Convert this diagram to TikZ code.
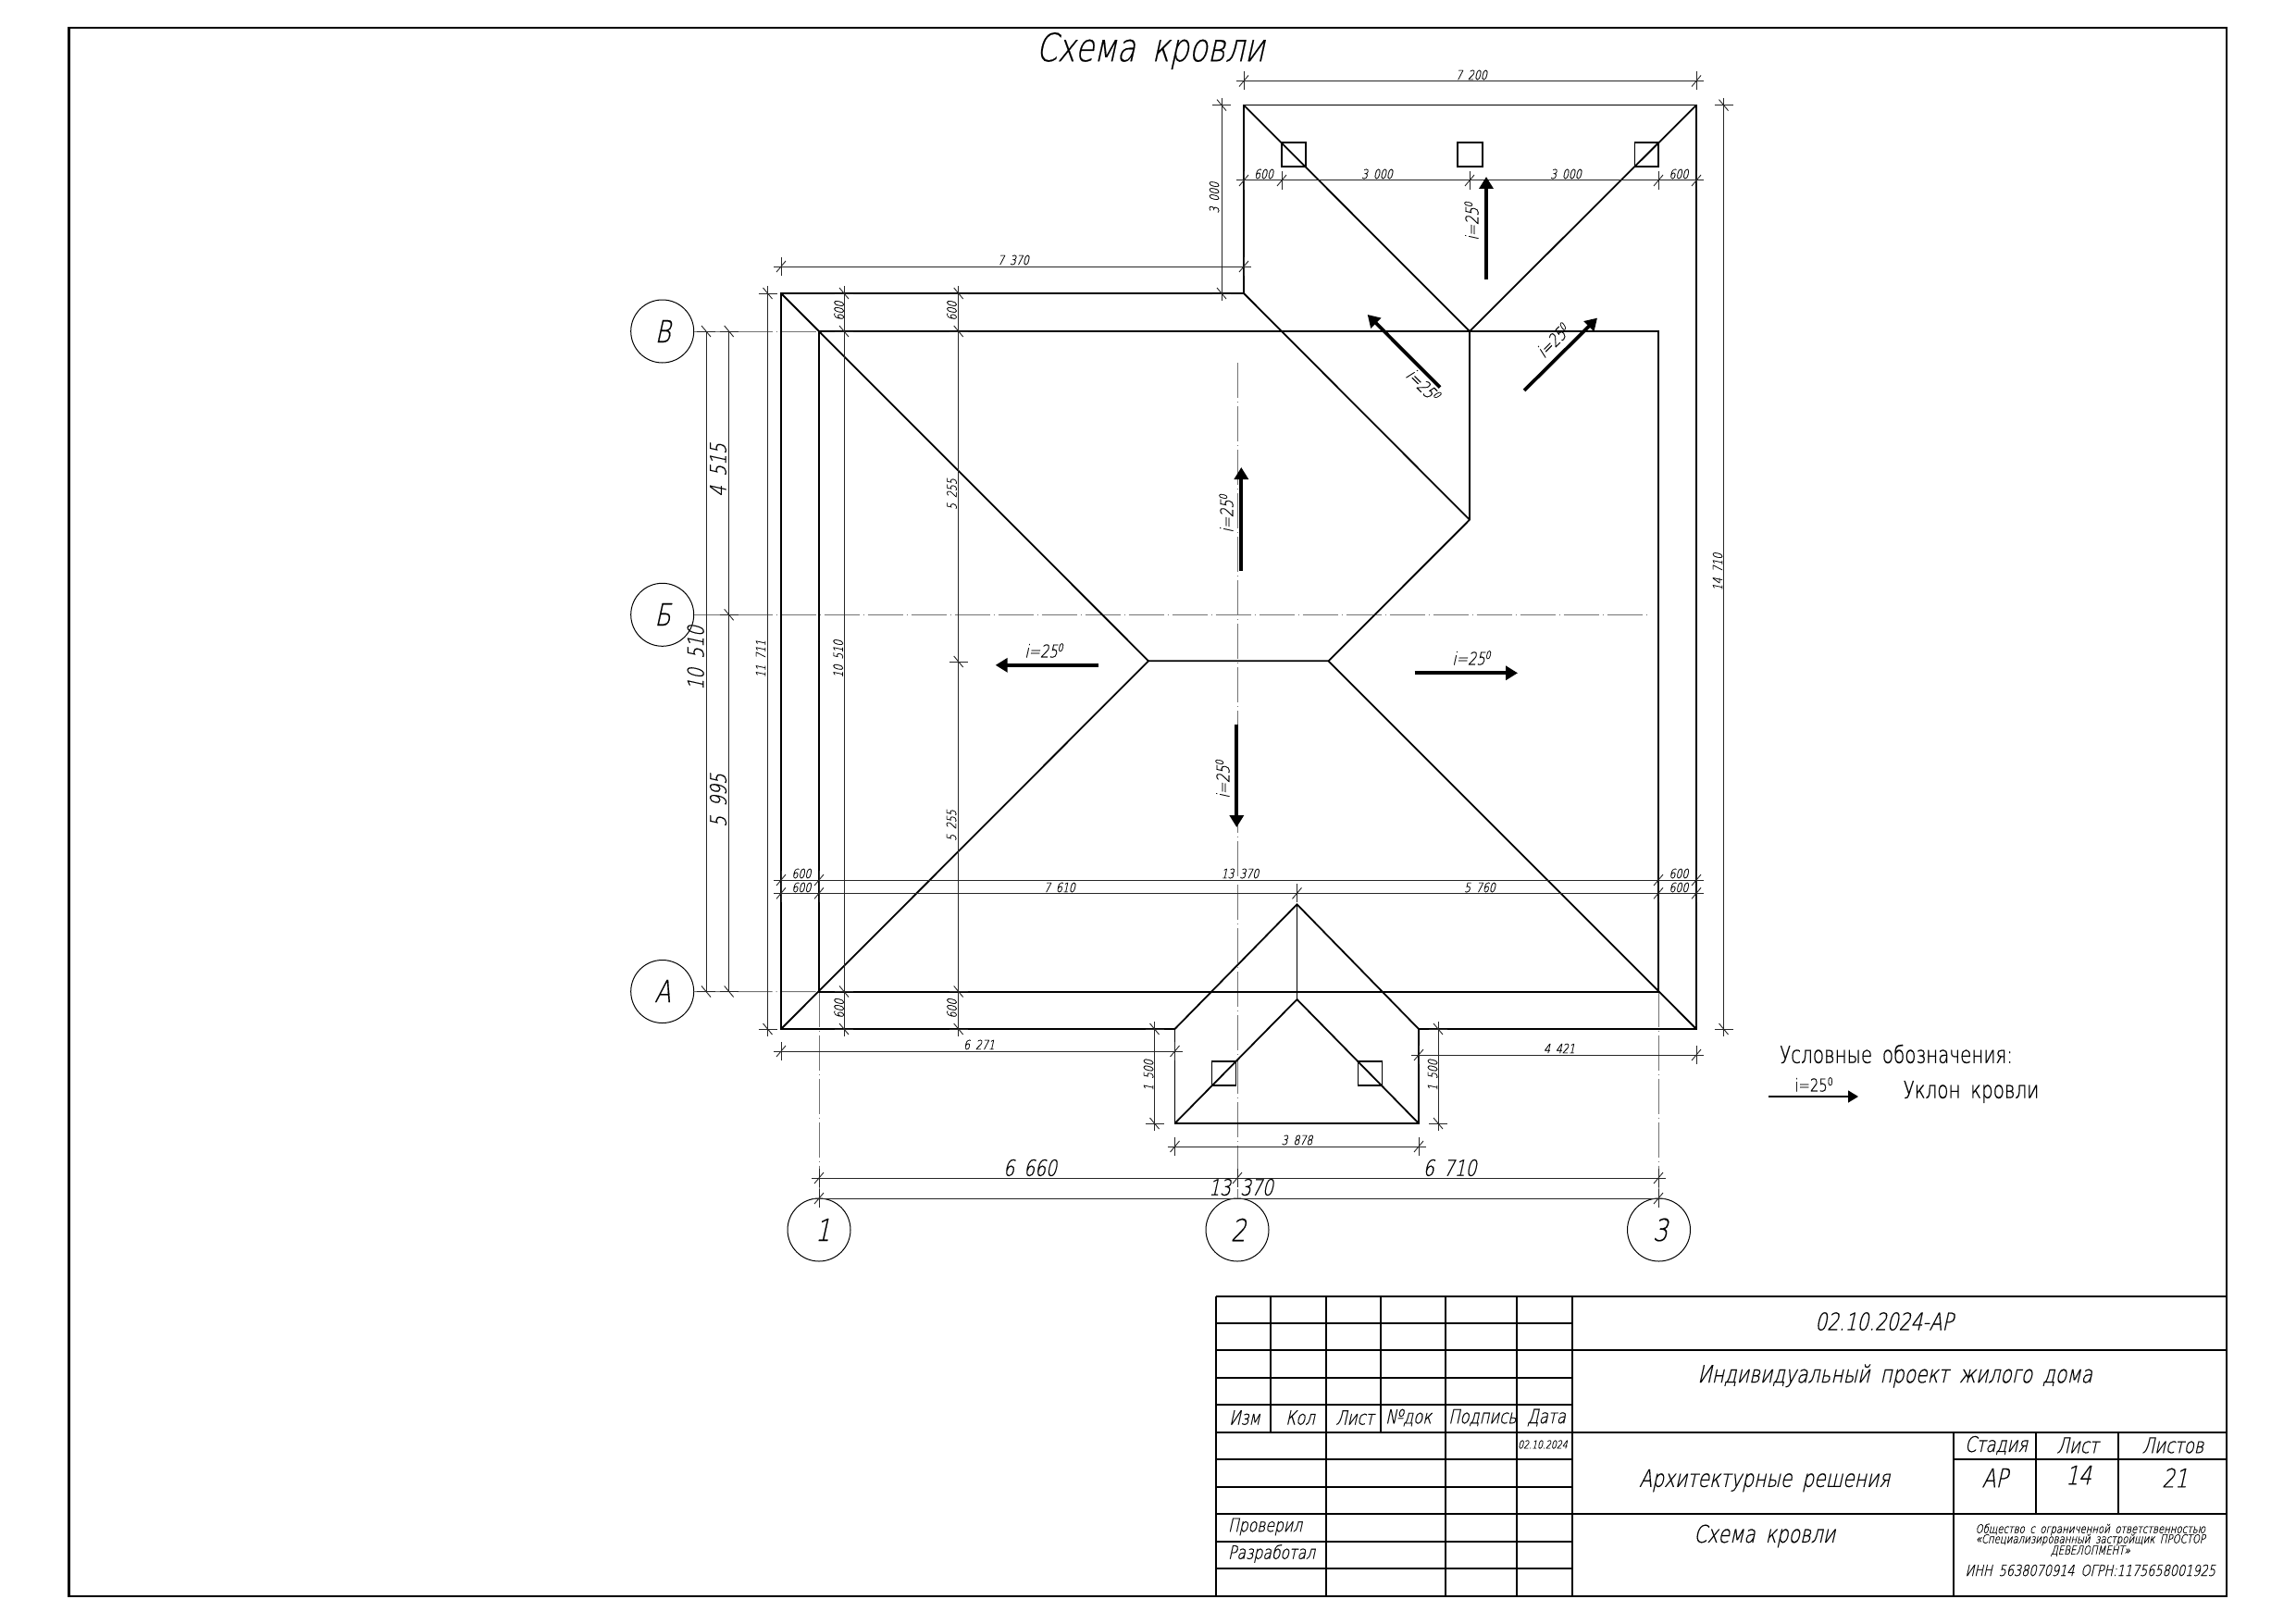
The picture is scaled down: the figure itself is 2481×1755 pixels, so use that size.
\documentclass[tikz,border=0pt]{standalone}
\usepackage{fontspec}
\usetikzlibrary{arrows.meta}
\newfontfamily\gost[FakeSlant=0.22,FakeStretch=0.78,FakeBold=0.4,WordSpace=1.7]{DejaVu Sans ExtraLight}
\newfontfamily\gostup[FakeStretch=0.78,FakeBold=0.6,WordSpace=1.7]{DejaVu Sans ExtraLight}
\newcounter{lb}
\newcommand\fs[1]{\gost\fontsize{#1}{#1}\selectfont}
\newcommand\tx[4][]{\stepcounter{lb}\node[txt,#1] (lb\arabic{lb}) at (#2,#3) {#4};}
\newcommand\hdim[4]{\draw[dimline] (#2-8,#1) -- (#3+8,#1);
  \foreach \tk in {#4} {\draw[dimtick] (\tk,#1-10) -- (\tk,#1+10); \draw[dimtick] (\tk-5,#1+6) -- (\tk+5,#1-6);}}
\newcommand\vdim[5][8]{\draw[dimline] (#2,#3-#1) -- (#2,#4+#1);
  \foreach \tk in {#5} {\draw[dimtick] (#2-10,\tk) -- (#2+10,\tk); \draw[dimtick] (#2-5,\tk-6) -- (#2+5,\tk+6);}}
\newcommand\slope{i=25\raisebox{.62ex}{\scalebox{.62}{0}}}
\tikzset{
  txt/.style={inner sep=0pt,outer sep=0pt,text=black,anchor=center},
  ds/.style={font=\fs{14}},
  db/.style={font=\fs{24}},
  sl/.style={font=\fs{19}},
  tb/.style={font=\fs{21}},
  tc/.style={font=\fs{23}},
  r90/.style={rotate=90},
  frame/.style={line width=2.4pt,black},
  roof/.style={line width=1.8pt,black,line join=miter},
  sky/.style={line width=1.7pt,black},
  grid/.style={line width=1.9pt,black},
  dimline/.style={line width=1pt,black!85},
  dimtick/.style={line width=.9pt,black!85},
  axisl/.style={line width=1pt,black!55,dash pattern=on 38pt off 4pt on 1pt off 4pt},
  bub/.style={circle,draw,line width=1pt,minimum size=68pt,inner sep=0pt,outer sep=0pt},
  slopearrow/.style={line width=3.7pt,black,-{Triangle[length=13pt,width=15pt]}},
}
\begin{document}
\begin{tikzpicture}[x=1pt,y=-1pt]
\useasboundingbox (0,0) rectangle (2481,1755);
\fill[white] (0,0) rectangle (2481,1755);
\draw[frame] (74.5,30) rectangle (2406,1725);
\tx[font=\fs{42}]{1243}{55}{Схема кровли}
% grid bubbles
\node[bub] (gV) at (715.7,358) {};
\node[bub] (gB) at (715.7,664.3) {};
\node[bub] (gA) at (715.7,1071.5) {};
\node[bub] (g1) at (885,1329) {};
\node[bub] (g2) at (1337,1329) {};
\node[bub] (g3) at (1792.5,1329) {};
\tx[font=\fs{33}]{716}{358}{В}
\tx[font=\fs{33}]{716}{664}{Б}
\tx[font=\fs{33}]{716}{1071}{А}
\tx[font=\fs{33}]{889}{1329}{1}
\tx[font=\fs{33}]{1338}{1329}{2}
\tx[font=\fs{33}]{1794}{1329}{3}
% key points
\coordinate (oTL) at (844,317);
\coordinate (oBL) at (844,1112);
\coordinate (oBR) at (1833,1112);
\coordinate (oTR) at (1833,113.6);
\coordinate (uTL) at (1344,113.6);
\coordinate (uBL) at (1344,317);
\coordinate (iTL) at (885,358);
\coordinate (iTR) at (1792,358);
\coordinate (iBR) at (1792,1071.7);
\coordinate (iBL) at (885,1071.7);
\coordinate (vTop) at (1588,358);
\coordinate (vBot) at (1588,561.7);
\coordinate (rL) at (1241,714.3);
\coordinate (rR) at (1435.5,714.3);
\coordinate (bL) at (1269.5,1112);
\coordinate (bR) at (1533,1112);
\coordinate (bBL) at (1269.5,1214);
\coordinate (bBR) at (1533,1214);
\coordinate (bTop) at (1401.5,977.3);
\coordinate (bLow) at (1401.5,1080);
% axes
\draw[axisl] (gV) ++(34,0) -- (iTL);
\draw[axisl] (gA) ++(34,0) -- (iBL);
\draw[axisl] (gB) ++(34,0) -- (1783,664.3);
\draw[axisl] (885,1071.7) -- (885,1295);
\draw[axisl] (1337,392) -- (g2.north);
\draw[axisl] (1792,1071.7) -- (1792,1295);
% roof
\draw[roof] (oTL) -- (uBL) -- (uTL) -- (oTR) -- (oBR) -- (bR) -- (bBR) -- (bBL) -- (bL) -- (oBL) -- cycle;
\draw[roof] (iTL) rectangle (iBR);
\draw[roof] (uTL) -- (vTop) -- (oTR);
\draw[roof] (vTop) -- (vBot) -- (rR) -- (rL);
\draw[roof] (uBL) -- (vBot);
\draw[roof] (oTL) -- (rL) -- (oBL);
\draw[roof] (rR) -- (oBR);
\draw[roof] (bL) -- (bTop) -- (bR);
\draw[roof] (bBL) -- (bLow) -- (bBR);
\draw[roof] (bTop) -- (bLow);
% skylights
\draw[sky] (1385,154) rectangle (1411,180);
\draw[sky] (1575,154) rectangle (1602,180);
\draw[sky] (1766.5,154) rectangle (1792,180);
\draw[sky] (1309.5,1147) rectangle (1335.5,1173);
\draw[sky] (1467.6,1147) rectangle (1493.5,1173);
% dimensions
\hdim{87.5}{1344}{1833}{1344,1833}
\hdim{195}{1344}{1833}{1344,1385,1588,1792,1833}
\hdim{288}{844}{1344}{844,1344}
\hdim{951}{844}{1833}{844,885,1792,1833}
\hdim{965.3}{844}{1833}{844,885,1401.5,1792,1833}
\hdim{1136}{844}{1269.5}{844,1269.5}
\hdim{1140}{1533}{1833}{1533,1833}
\hdim{1239}{1269.5}{1533}{1269.5,1533}
\hdim{1273}{885}{1792}{885,1337,1792}
\hdim{1295}{885}{1792}{885,1792}
\vdim{1320}{113.6}{317}{113.6,317}
\vdim{1862.5}{113.6}{1112}{113.6,1112}
\vdim{1247.5}{1112}{1214}{1112,1214}
\vdim{1554}{1112}{1214}{1112,1214}
\vdim[0]{763}{358}{1071.5}{358,1071.5}
\vdim[0]{787.7}{358}{1071.5}{358,664.3,1071.5}
\vdim{829.5}{317}{1112}{317,1112}
\vdim{912}{317}{1112}{317,358,1071.5,1112}
\vdim{1035.7}{317}{1112}{317,358,715,1071.5,1112}
% small dimension labels
\tx[ds]{1590}{81}{7 200}
\tx[ds]{1365.6}{188}{600}
\tx[ds]{1488}{188}{3 000}
\tx[ds]{1692}{188}{3 000}
\tx[ds]{1814}{188}{600}
\tx[ds]{1095}{281}{7 370}
\tx[ds,r90]{1312}{213.6}{3 000}
\tx[ds,r90]{1856}{618}{14 710}
\tx[ds,r90]{906.6}{336}{600}
\tx[ds,r90]{1028.5}{336}{600}
\tx[ds,r90]{906.6}{1090}{600}
\tx[ds,r90]{1028.5}{1090}{600}
\tx[ds,r90]{822}{712}{11 711}
\tx[ds,r90]{905.7}{712}{10 510}
\tx[ds,r90]{1028.5}{534}{5 255}
\tx[ds,r90]{1028}{892}{5 255}
\tx[ds]{866}{944}{600}
\tx[ds]{1340}{944}{13 370}
\tx[ds]{1814}{944}{600}
\tx[ds]{866}{959}{600}
\tx[ds]{1145}{959}{7 610}
\tx[ds]{1599}{959}{5 760}
\tx[ds]{1814}{959}{600}
\tx[ds]{1058}{1129}{6 271}
\tx[ds]{1685}{1133}{4 421}
\tx[ds,r90]{1241}{1162}{1 500}
\tx[ds,r90]{1548}{1162}{1 500}
\tx[ds]{1401.5}{1232}{3 878}
% large dimension labels
\tx[db,r90]{776}{508}{4 515}
\tx[db,r90]{776}{865}{5 995}
\tx[db,r90]{751.7}{711}{10 510}
\tx[db]{1113}{1262}{6 660}
\tx[db]{1566.6}{1262}{6 710}
\tx[db]{1341}{1283}{13 370}
% slope arrows
\draw[slopearrow] (1606,302) -- (1606,191);
\draw[slopearrow] (1556,418.6) -- (1477.7,340);
\draw[slopearrow] (1647,422) -- (1726,343.6);
\draw[slopearrow] (1341.3,616.7) -- (1341.3,505);
\draw[slopearrow] (1336.3,782.7) -- (1336.3,894);
\draw[slopearrow] (1187,718.8) -- (1075.7,718.8);
\draw[slopearrow] (1528.7,727.3) -- (1640,727.3);
\tx[sl,r90]{1590}{239}{\slope}
\tx[sl,rotate=-45]{1538}{416}{\slope}
\tx[sl,rotate=45]{1678}{368}{\slope}
\tx[sl,r90]{1325}{555}{\slope}
\tx[sl,r90]{1321}{842}{\slope}
\tx[sl]{1128}{703}{\slope}
\tx[sl]{1590}{711}{\slope}
% legend
\tx[font=\gostup\fontsize{25.5}{25.5}\selectfont]{2049}{1139}{Условные обозначения:}
\draw[line width=1.4pt,-{Triangle[length=11pt,width=13pt]}] (1911,1185) -- (2008,1185);
\tx[font=\gostup\fontsize{19}{19}\selectfont]{1960}{1172}{\slope}
\tx[font=\gostup\fontsize{25.5}{25.5}\selectfont]{2130}{1180}{Уклон кровли}
% title block grid
\foreach \yy in {1400.7,1430,1459.3,1489,1518.3,1547.7,1577.3,1606.7,1636.3,1666,1695.3,1725}
  \draw[grid] (1314,\yy) -- (1698.7,\yy);
\foreach \xx in {1314,1432.7,1561.7,1639.3,1698.7}
  \draw[grid] (\xx,1400.7) -- (\xx,1725);
\foreach \xx in {1373.3,1491.7}
  \draw[grid] (\xx,1400.7) -- (\xx,1547.7);
\foreach \yy in {1400.7,1459.3,1547.7,1636.3,1725}
  \draw[grid] (1698.7,\yy) -- (2406,\yy);
\draw[grid] (2111,1547.7) -- (2111,1725);
\draw[grid] (2200,1547.7) -- (2200,1636.3);
\draw[grid] (2288.6,1547.7) -- (2288.6,1636.3);
\draw[grid] (2111,1577.3) -- (2406,1577.3);
% title block text
\tx[tb]{1345}{1532}{Изм}
\tx[tb]{1405}{1532}{Кол}
\tx[tb]{1464}{1532}{Лист}
\tx[tb]{1522}{1532}{№док}
\tx[tb]{1602}{1532}{Подпись}
\tx[tb]{1671}{1532}{Дата}
\tx[font=\fs{12}]{1667}{1561}{02.10.2024}
\tx[font=\fs{20},anchor=west]{1327}{1650}{Проверил}
\tx[font=\fs{20},anchor=west]{1327}{1679}{Разработал}
\tx[font=\fs{26}]{2036}{1428}{02.10.2024-АР}
\tx[font=\fs{26}]{2047.6}{1487}{Индивидуальный проект жилого дома}
\tx[font=\fs{26}]{1906.7}{1600}{Архитектурные решения}
\tx[font=\fs{26}]{1906.7}{1660}{Схема кровли}
\tx[tc]{2157}{1562}{Стадия}
\tx[tc]{2245}{1562}{Лист}
\tx[tc]{2348}{1562}{Листов}
\tx[font=\fs{28}]{2155.7}{1597}{АР}
\tx[font=\fs{28}]{2246}{1594}{14}
\tx[font=\fs{28}]{2350}{1597}{21}
\tx[font=\fs{13}]{2258.8}{1653}{Общество с ограниченной ответственностью}
\tx[font=\fs{13}]{2258.8}{1664}{«Специализированный застройщик ПРОСТОР}
\tx[font=\fs{13}]{2258.8}{1676}{ДЕВЕЛОПМЕНТ»}
\tx[font=\fs{16.5}]{2258.8}{1697}{ИНН 5638070914 ОГРН:1175658001925}
\end{tikzpicture}
\end{document}
